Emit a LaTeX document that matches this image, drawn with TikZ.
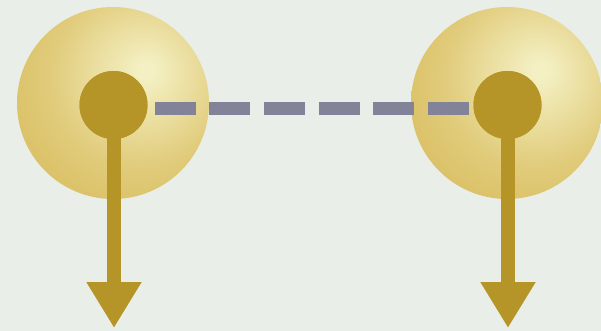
\documentclass[tikz,border=0pt]{standalone}
\usetikzlibrary{arrows.meta, positioning}

\definecolor{bgGray}{HTML}{E9EEE8}
\definecolor{haloLight}{HTML}{F4F0C3}
\definecolor{haloMid}{HTML}{E1CC7C}
\definecolor{haloEdge}{HTML}{D3B34C}
\definecolor{coreGold}{HTML}{B69528}
\definecolor{linkGray}{HTML}{828298}

\pgfdeclareradialshading{haloshade}{\pgfpoint{8.9bp}{8.7bp}}{%
  color(0bp)=(haloLight); color(2bp)=(haloLight);
  color(23bp)=(haloMid); color(48bp)=(haloEdge); color(100bp)=(haloEdge)}

\begin{document}
\begin{tikzpicture}[
    x=1pt, y=-1pt,
    halo/.style={circle, inner sep=0pt, minimum size=192pt, shading=haloshade},
    core/.style={circle, inner sep=0pt, minimum size=68pt, fill=coreGold},
    link/.style={draw=linkGray, line width=13pt, dash pattern=on 41pt off 13.6pt},
    drop/.style={draw=coreGold, line width=14pt, -{Triangle[width=52pt, length=46pt]}}
]
    \useasboundingbox[fill=bgGray] (0,0) rectangle (601,331);

    \node[halo] (lefthalo) at (113,103) {};
    \node[halo] (righthalo) at (507,103) {};

    \node[core] (leftcore) at (113.5,105) {};
    \node[core] (rightcore) at (507.5,105) {};

    \coordinate (leftend) at (114,328);
    \coordinate (rightend) at (508,328);

    \draw[drop] (leftcore.center -| leftend) -- (leftend);
    \draw[drop] (rightcore.center -| rightend) -- (rightend);
    \node[core] at (leftcore) {};
    \node[core] at (rightcore) {};

    \draw[link] ([xshift=7pt, yshift=-3.7pt]leftcore.east) -- ([xshift=-4pt, yshift=-3.7pt]rightcore.west);
\end{tikzpicture}
\end{document}
